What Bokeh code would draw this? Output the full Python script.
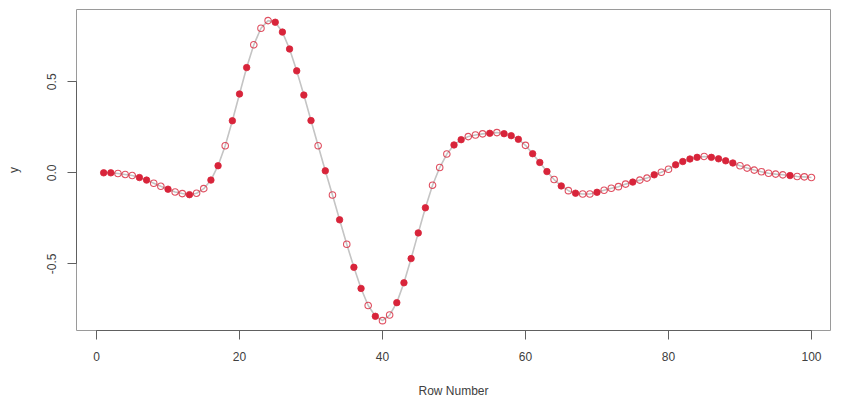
from bokeh.plotting import figure
from bokeh.models import ColumnDataSource, FixedTicker, Range1d, PrintfTickFormatter
from bokeh.embed import file_html
from bokeh.resources import INLINE

row_number = list(range(1, 101))
y_values = [
    0.000, 0.000, -0.004, -0.009, -0.015, -0.026, -0.040, -0.057, -0.074, -0.090,
    -0.105, -0.114, -0.120, -0.112, -0.087, -0.040, 0.039, 0.149, 0.286, 0.433,
    0.578, 0.703, 0.794, 0.836, 0.827, 0.773, 0.680, 0.560, 0.427, 0.287,
    0.149, 0.011, -0.122, -0.258, -0.392, -0.519, -0.635, -0.729, -0.788, -0.812,
    -0.781, -0.713, -0.604, -0.471, -0.330, -0.192, -0.068, 0.029, 0.103, 0.153,
    0.182, 0.199, 0.208, 0.214, 0.217, 0.221, 0.215, 0.204, 0.184, 0.151,
    0.105, 0.057, 0.007, -0.037, -0.072, -0.098, -0.112, -0.116, -0.116, -0.107,
    -0.096, -0.085, -0.076, -0.062, -0.051, -0.040, -0.029, -0.011, 0.003, 0.020,
    0.044, 0.062, 0.076, 0.085, 0.090, 0.085, 0.077, 0.066, 0.054, 0.039,
    0.026, 0.015, 0.006, -0.002, -0.007, -0.011, -0.015, -0.020, -0.022, -0.026,
]
# 1 = filled point, 0 = open point
filled_flag = [
    1, 1, 0, 0, 0, 1, 1, 0, 0, 1,
    0, 0, 1, 0, 0, 1, 1, 0, 1, 1,
    1, 0, 0, 0, 1, 1, 1, 1, 1, 1,
    0, 1, 0, 1, 0, 1, 1, 0, 1, 0,
    0, 1, 1, 1, 1, 1, 0, 0, 0, 1,
    1, 0, 0, 0, 1, 0, 1, 1, 1, 0,
    1, 1, 1, 0, 1, 0, 1, 0, 0, 1,
    0, 0, 0, 0, 1, 0, 0, 1, 0, 0,
    1, 1, 1, 1, 0, 1, 1, 1, 1, 0,
    0, 0, 0, 0, 0, 0, 1, 0, 0, 0,
]
x_ticks = [0, 20, 40, 60, 80, 100]
y_ticks = [-0.5, 0.0, 0.5]

RED = "#d8243a"
TEXT = "#404040"
FONT = "Liberation Sans Narrow, Liberation Sans"

src_all = ColumnDataSource(dict(x=row_number, y=y_values))
src_f = ColumnDataSource(dict(
    x=[x for x, f in zip(row_number, filled_flag) if f == 1],
    y=[y for y, f in zip(y_values, filled_flag) if f == 1]))
src_o = ColumnDataSource(dict(
    x=[x for x, f in zip(row_number, filled_flag) if f == 0],
    y=[y for y, f in zip(y_values, filled_flag) if f == 0]))

p = figure(width=840, height=400, output_backend="svg", toolbar_location=None,
           x_range=Range1d(-2.8, 102.66), y_range=Range1d(-0.866, 0.897),
           min_border_left=76, min_border_right=10, min_border_top=9,
           min_border_bottom=70, x_axis_label="Row Number", y_axis_label="y")

p.line("x", "y", source=src_all, line_color="#c4c4c4", line_width=1.6)
p.scatter("x", "y", source=src_o, size=6.5, fill_color=None,
          line_color=RED, line_width=1.1, line_alpha=0.8)
p.scatter("x", "y", source=src_f, size=6.5, fill_color=RED,
          line_color=RED, line_width=0.8)

p.xgrid.visible = False
p.ygrid.visible = False
p.outline_line_color = "#9a9a9a"
p.outline_line_width = 1
p.background_fill_color = "white"
p.border_fill_color = "white"

xa = p.xaxis[0]
xa.ticker = FixedTicker(ticks=x_ticks)
xa.bounds = (0, 100)
ya = p.yaxis[0]
ya.ticker = FixedTicker(ticks=y_ticks)
ya.bounds = (-0.5, 0.5)
ya.formatter = PrintfTickFormatter(format="%.1f")
ya.major_label_orientation = "vertical"

for ax in (xa, ya):
    ax.axis_line_color = "#606060"
    ax.major_tick_line_color = "#606060"
    ax.major_tick_out = 9
    ax.major_tick_in = 0
    ax.minor_tick_line_color = None
    ax.major_label_text_font = FONT
    ax.major_label_text_font_size = "12px"
    ax.major_label_text_color = TEXT
    ax.axis_label_text_font = FONT
    ax.axis_label_text_font_size = "12px"
    ax.axis_label_text_font_style = "normal"
    ax.axis_label_text_color = TEXT

xa.major_label_standoff = 12
xa.axis_label_standoff = 20
ya.major_label_standoff = 11
ya.axis_label_standoff = 24

open("out.html", "w").write(file_html(p, INLINE))
